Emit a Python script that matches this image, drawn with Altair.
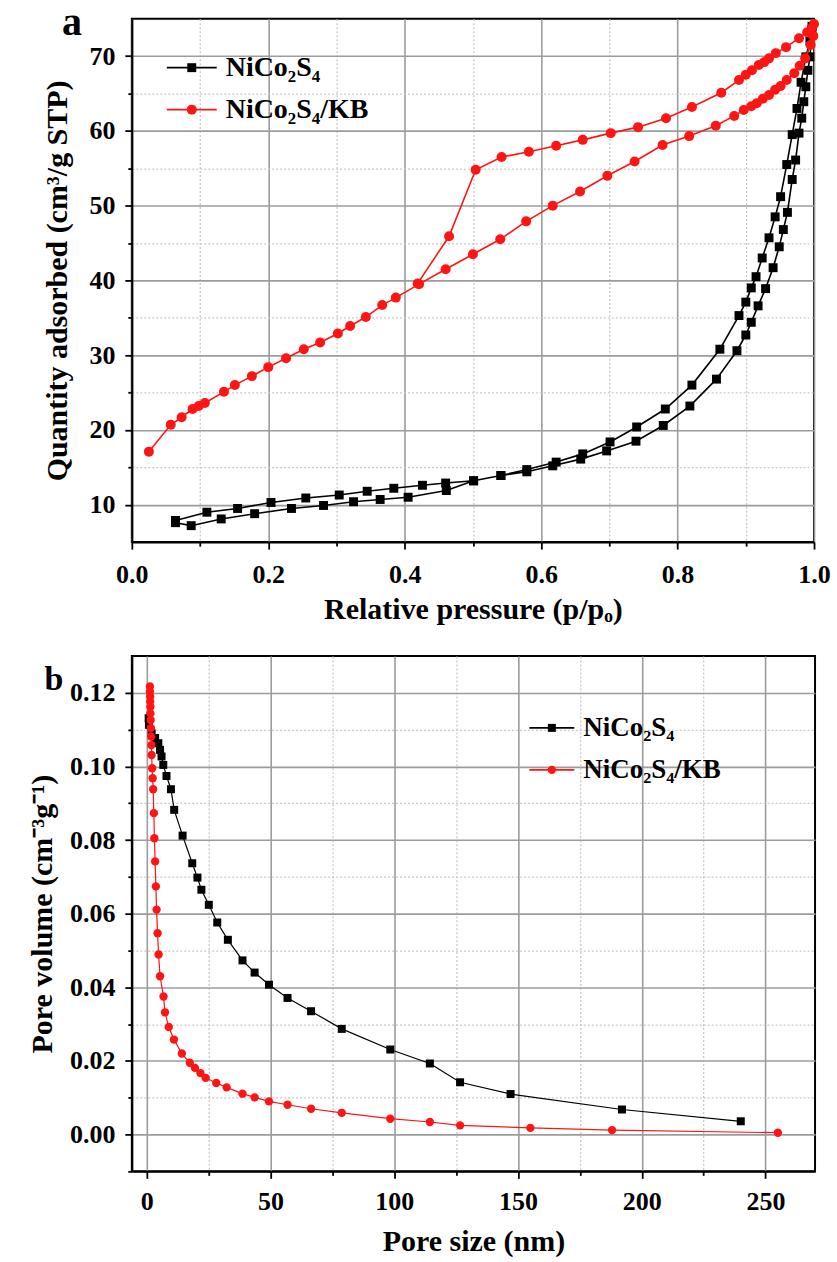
import altair as alt
import pandas as pd

# ---------------- Panel a : N2 adsorption / desorption isotherms ----------------
ni_ads_p = [0.064, 0.087, 0.131, 0.18, 0.234, 0.281, 0.325, 0.364, 0.405, 0.461, 0.501,
            0.541, 0.579, 0.617, 0.658, 0.696, 0.739, 0.779, 0.818, 0.857, 0.887, 0.9,
            0.908, 0.918, 0.929, 0.94, 0.949, 0.955, 0.961, 0.968, 0.973, 0.978, 0.982,
            0.985, 0.988, 0.991, 0.994, 0.997]
ni_ads_q = [7.6, 7.2, 8.1, 8.8, 9.5, 9.9, 10.4, 10.7, 11.0, 11.9, 13.2,
            13.9, 14.4, 15.2, 16.1, 17.2, 18.5, 20.6, 23.2, 26.8, 30.6, 32.7,
            34.4, 36.6, 38.9, 41.7, 44.5, 46.8, 49.1, 53.5, 56.1, 59.7, 61.7,
            63.9, 65.9, 68.1, 69.9, 73.5]
ni_des_p = [0.997, 0.994, 0.988, 0.981, 0.975, 0.968, 0.96, 0.951, 0.943, 0.934, 0.924,
            0.915, 0.908, 0.9, 0.89, 0.862, 0.821, 0.782, 0.74, 0.701, 0.661, 0.622,
            0.579, 0.541, 0.501, 0.46, 0.426, 0.384, 0.345, 0.304, 0.255, 0.204, 0.155,
            0.11, 0.064]
ni_des_q = [74.0, 72.0, 69.9, 66.5, 63.0, 59.5, 55.5, 51.2, 48.5, 45.7, 43.0,
            40.5, 39.0, 37.1, 35.3, 30.8, 26.0, 22.8, 20.4, 18.4, 16.8, 15.7,
            14.7, 13.9, 13.2, 12.9, 12.6, 12.2, 11.8, 11.3, 10.9, 10.3, 9.5,
            9.0, 7.9]

kb_ads_p = [0.025, 0.057, 0.073, 0.089, 0.098, 0.107, 0.135, 0.151, 0.176, 0.2, 0.226,
            0.252, 0.276, 0.302, 0.32, 0.343, 0.367, 0.387, 0.421, 0.46, 0.5, 0.54,
            0.578, 0.617, 0.657, 0.697, 0.737, 0.778, 0.817, 0.856, 0.883, 0.897, 0.908,
            0.916, 0.925, 0.934, 0.943, 0.951, 0.96, 0.971, 0.979, 0.987, 0.995, 0.999]
kb_ads_q = [17.1, 20.7, 21.7, 22.8, 23.2, 23.6, 25.1, 26.0, 27.2, 28.4, 29.6,
            30.8, 31.7, 32.9, 33.9, 35.1, 36.7, 37.7, 39.5, 41.5, 43.5, 45.5,
            47.9, 50.0, 51.9, 54.0, 55.9, 58.1, 59.3, 60.7, 62.0, 62.8, 63.3,
            63.7, 64.3, 64.8, 65.5, 66.0, 66.8, 67.7, 68.7, 69.7, 71.5, 72.7]
kb_des_p = [1.0, 0.997, 0.99, 0.978, 0.959, 0.944, 0.934, 0.927, 0.919, 0.909, 0.9,
            0.89, 0.864, 0.821, 0.783, 0.742, 0.702, 0.661, 0.622, 0.582, 0.542, 0.504,
            0.465, 0.419]
kb_des_q = [74.3, 73.8, 73.2, 72.4, 71.2, 70.4, 69.7, 69.2, 68.8, 68.1, 67.5,
            66.8, 65.1, 63.2, 61.7, 60.5, 59.7, 58.8, 58.0, 57.2, 56.5, 54.8,
            45.9, 39.6]

# ---------------- Panel b : pore size distribution ----------------
ni_size = [0.8, 0.9, 2.0, 3.4, 4.7, 5.4, 6.0, 6.7, 8.0, 9.8, 11.1, 14.5, 18.4, 20.5,
           22.1, 25.1, 28.5, 32.8, 38.7, 43.6, 49.4, 56.9, 66.4, 78.8, 98.4, 114.4,
           126.6, 147.0, 192.0, 240.0]
ni_vol = [0.1131, 0.1113, 0.1090, 0.1077, 0.1063, 0.1045, 0.1027, 0.1004, 0.0974,
          0.0938, 0.0882, 0.0812, 0.0737, 0.0698, 0.0665, 0.0624, 0.0576, 0.0529,
          0.0473, 0.0440, 0.0407, 0.0371, 0.0335, 0.0287, 0.0231, 0.0193, 0.0142,
          0.0110, 0.0068, 0.0036]
kb_size = [1.3, 1.3, 1.4, 1.4, 1.5, 1.5, 1.6, 1.7, 1.8, 1.9, 2.0, 2.2, 2.4, 2.6, 2.9,
           3.1, 3.4, 3.7, 4.0, 4.4, 4.8, 5.4, 6.8, 7.4, 8.9, 11.0, 14.2, 17.4, 19.5,
           21.7, 23.8, 28.1, 32.3, 38.7, 43.6, 49.4, 56.9, 66.4, 78.8, 98.4, 114.4,
           126.6, 155.0, 188.0, 255.0]
kb_vol = [0.1217, 0.1203, 0.1190, 0.1176, 0.1162, 0.1144, 0.1126, 0.1104, 0.1081,
          0.1058, 0.1031, 0.0995, 0.0968, 0.0938, 0.0873, 0.0805, 0.0742, 0.0674,
          0.0611, 0.0547, 0.0489, 0.0430, 0.0375, 0.0332, 0.0292, 0.0258, 0.0220,
          0.0195, 0.0181, 0.0167, 0.0154, 0.0140, 0.0128, 0.0111, 0.0101, 0.0090,
          0.0081, 0.0070, 0.0059, 0.0043, 0.0034, 0.0025, 0.0018, 0.0012, 0.0005]

labels = ["NiCo\u2082S\u2084", "NiCo\u2082S\u2084/KB"]

FONT = "Liberation Serif"
RED = "#ff1414"
BLACK = "#000000"


def frame(xs, ys, start=0):
    return pd.DataFrame({"x": xs, "y": ys, "o": list(range(start, start + len(xs)))})


def make_axis(values, major, label_expr, title, title_pad, label_pad):
    return alt.Axis(
        values=values, title=title, labelExpr=label_expr, grid=True,
        gridColor={"condition": {"test": major, "value": "#9c9c9c"}, "value": "#c9c9c9"},
        gridDash={"condition": {"test": major, "value": []}, "value": [2, 2]},
        gridWidth={"condition": {"test": major, "value": 1.6}, "value": 1.3},
        tickSize={"condition": {"test": major, "value": 7}, "value": 4},
        tickColor=BLACK, tickWidth=1.8, domainColor=BLACK, domainWidth=2,
        labelFont=FONT, labelFontSize=26, labelFontWeight="bold", labelColor=BLACK,
        labelPadding=label_pad, labelFlush=False, labelOverlap=False,
        titleFont=FONT, titleFontSize=30, titleFontWeight="bold", titleColor=BLACK,
        titlePadding=title_pad,
    )


one = pd.DataFrame({"k": [0]})


def legend_layers(x0, x1, xt, rows, shapes, colors, sizes, fs):
    out = []
    for yy, lab, shp, col, sz in zip(rows, labels, shapes, colors, sizes):
        out.append(alt.Chart(one).mark_rule(color=col, strokeWidth=1.6).encode(
            x=alt.value(x0), x2=alt.value(x1), y=alt.value(yy)))
        out.append(alt.Chart(one).mark_point(shape=shp, filled=True, size=sz, color=col, opacity=1).encode(
            x=alt.value((x0 + x1) / 2), y=alt.value(yy)))
        out.append(alt.Chart(one).mark_text(font=FONT, fontSize=fs, fontWeight="bold", align="left",
                                            baseline="middle", color=BLACK).encode(
            x=alt.value(xt), y=alt.value(yy), text=alt.value(lab)))
    return out


# ---------------- chart a ----------------
xa_vals = [round(i * 0.1, 1) for i in range(0, 11)]
ya_vals = list(range(10, 75, 5))
xa = alt.X("x:Q", scale=alt.Scale(domain=[0, 1], nice=False, zero=False),
           axis=make_axis(xa_vals, "abs(datum.value*5 - round(datum.value*5)) < 0.001",
                          "abs(datum.value*5 - round(datum.value*5)) < 0.001 ? format(datum.value, '.1f') : ''",
                          "Relative pressure (p/p\u2092)", 7, 12))
ya = alt.Y("y:Q", scale=alt.Scale(domain=[5, 75], nice=False, zero=False),
           axis=make_axis(ya_vals, "datum.value % 10 === 0",
                          "datum.value % 10 === 0 ? format(datum.value, 'd') : ''",
                          "Quantity adsorbed (cm\u00b3/g STP)", 16, 10))

ni_iso = pd.concat([frame(ni_ads_p, ni_ads_q), frame(ni_des_p, ni_des_q, len(ni_ads_p))])
kb_iso = pd.concat([frame(kb_ads_p, kb_ads_q), frame(kb_des_p, kb_des_q, len(kb_ads_p))])

a_layers = [
    alt.Chart(ni_iso).mark_line(color=BLACK, strokeWidth=1.6).encode(x=xa, y=ya, order="o:Q"),
    alt.Chart(ni_iso).mark_point(shape="square", filled=True, size=80, color=BLACK, opacity=1).encode(x=xa, y=ya),
    alt.Chart(kb_iso).mark_line(color=RED, strokeWidth=1.6).encode(x=xa, y=ya, order="o:Q"),
    alt.Chart(kb_iso).mark_point(shape="circle", filled=True, size=100, color=RED, opacity=1).encode(x=xa, y=ya),
]
a_layers += legend_layers(35, 85, 94, [49, 91], ["square", "circle"], [BLACK, RED], [80, 100], 28)
a_layers.append(alt.Chart(one).mark_text(font=FONT, fontSize=40, fontWeight="bold", baseline="middle",
                                         color=BLACK).encode(x=alt.value(-60), y=alt.value(4), text=alt.value("a")))
chart_a = alt.layer(*a_layers).properties(width=683, height=524)

# ---------------- chart b ----------------
xb_vals = list(range(0, 275, 25))
yb_vals = [round(-0.01 + i * 0.01, 2) for i in range(0, 14)]
xb = alt.X("x:Q", scale=alt.Scale(domain=[-6, 270], nice=False, zero=False),
           axis=make_axis(xb_vals, "datum.value % 50 === 0",
                          "datum.value % 50 === 0 ? format(datum.value, 'd') : ''",
                          "Pore size (nm)", 12, 10))
yb = alt.Y("y:Q", scale=alt.Scale(domain=[-0.01, 0.13], nice=False, zero=False),
           axis=make_axis(yb_vals, "abs(datum.value*50 - round(datum.value*50)) < 0.001",
                          "abs(datum.value*50 - round(datum.value*50)) < 0.001 && datum.value > -0.005 ? format(datum.value, '.2f') : ''",
                          "Pore volume (cm\u207b\u00b3g\u207b\u00b9)", 12, 10))

ni_psd = frame(ni_size, ni_vol)
kb_psd = frame(kb_size, kb_vol)
b_layers = [
    alt.Chart(ni_psd).mark_line(color=BLACK, strokeWidth=1.2).encode(x=xb, y=yb, order="o:Q"),
    alt.Chart(ni_psd).mark_point(shape="square", filled=True, size=64, color=BLACK, opacity=1).encode(x=xb, y=yb),
    alt.Chart(kb_psd).mark_line(color=RED, strokeWidth=1.2).encode(x=xb, y=yb, order="o:Q"),
    alt.Chart(kb_psd).mark_point(shape="circle", filled=True, size=70, color=RED, opacity=1).encode(x=xb, y=yb),
]
b_layers += legend_layers(398, 443, 452, [72, 114], ["square", "circle"], [BLACK, RED], [64, 70], 27)
b_layers.append(alt.Chart(one).mark_text(font=FONT, fontSize=34, fontWeight="bold", baseline="middle",
                                         color=BLACK).encode(x=alt.value(-78), y=alt.value(24), text=alt.value("b")))
chart_b = alt.layer(*b_layers).properties(width=684, height=516)

chart = alt.vconcat(chart_a, chart_b, spacing=30).properties(
    padding={"left": 26, "top": 1, "right": 5, "bottom": 2}, background="white"
).configure_view(stroke=BLACK, strokeWidth=2)

chart.save("out.html", embed_options={"renderer": "svg", "actions": False})
